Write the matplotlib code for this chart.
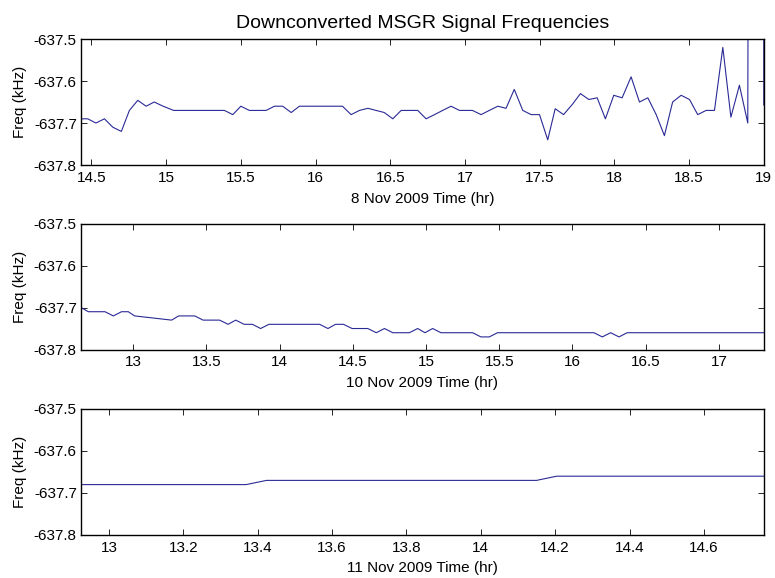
import matplotlib
matplotlib.use('Agg')
import matplotlib.pyplot as plt
import numpy as np
from matplotlib.ticker import FormatStrFormatter, FixedLocator

plt.rcParams['font.family'] = ['Liberation Sans', 'DejaVu Sans']

# 8 Nov 2009 pass
t_nov8 = [14.43, 14.475, 14.53, 14.587, 14.643, 14.70, 14.754, 14.81, 14.866, 14.92,
          14.98, 15.05, 15.39, 15.446, 15.50, 15.557, 15.669, 15.725, 15.78, 15.837,
          15.892, 16.18, 16.238, 16.294, 16.35, 16.46, 16.517, 16.573, 16.684, 16.74,
          16.796, 16.851, 16.907, 16.963, 17.05, 17.108, 17.163, 17.22, 17.275, 17.33,
          17.387, 17.443, 17.499, 17.554, 17.604, 17.66, 17.72, 17.773, 17.829, 17.885,
          17.94, 17.996, 18.052, 18.112, 18.168, 18.224, 18.28, 18.335, 18.39, 18.447,
          18.503, 18.558, 18.614, 18.67, 18.726, 18.78, 18.837, 18.893, 18.895, 19.0,
          19.0]
f_nov8 = [-637.69, -637.69, -637.70, -637.69, -637.71, -637.72, -637.67, -637.646, -637.66, -637.65,
          -637.66, -637.67, -637.67, -637.68, -637.66, -637.67, -637.67, -637.66, -637.66, -637.675,
          -637.66, -637.66, -637.68, -637.67, -637.665, -637.675, -637.69, -637.67, -637.67, -637.69,
          -637.68, -637.67, -637.66, -637.67, -637.67, -637.68, -637.67, -637.66, -637.665, -637.62,
          -637.67, -637.68, -637.68, -637.74, -637.666, -637.68, -637.655, -637.63, -637.644, -637.64,
          -637.69, -637.634, -637.64, -637.59, -637.65, -637.64, -637.68, -637.73, -637.65, -637.634,
          -637.644, -637.68, -637.67, -637.67, -637.52, -637.686, -637.61, -637.70, -637.40, -637.40,
          -637.657]

# 10 Nov 2009 pass
t_nov10 = [12.643, 12.693, 12.807, 12.864, 12.92, 12.966, 13.01, 13.262, 13.31, 13.42,
           13.477, 13.59, 13.648, 13.70, 13.757, 13.814, 13.87, 13.927, 14.273, 14.33,
           14.382, 14.436, 14.495, 14.602, 14.66, 14.716, 14.773, 14.886, 14.943, 14.993,
           15.045, 15.102, 15.318, 15.375, 15.432, 15.488, 16.147, 16.204, 16.261, 16.318,
           16.374, 17.307]
f_nov10 = [-637.70, -637.71, -637.71, -637.72, -637.71, -637.71, -637.72, -637.73, -637.72, -637.72,
           -637.73, -637.73, -637.74, -637.73, -637.74, -637.74, -637.75, -637.74, -637.74, -637.75,
           -637.74, -637.74, -637.75, -637.75, -637.76, -637.75, -637.76, -637.76, -637.75, -637.76,
           -637.75, -637.76, -637.76, -637.77, -637.77, -637.76, -637.76, -637.77, -637.76, -637.77,
           -637.76, -637.76]

# 11 Nov 2009 pass
t_nov11 = [12.925, 13.369, 13.424, 14.15, 14.204, 14.761]
f_nov11 = [-637.68, -637.68, -637.67, -637.67, -637.66, -637.66]

passes = [
    (t_nov8, f_nov8, (14.43, 19.0), np.arange(14.5, 19.01, 0.5), '8 Nov 2009 Time (hr)'),
    (t_nov10, f_nov10, (12.643, 17.307), np.arange(13.0, 17.01, 0.5), '10 Nov 2009 Time (hr)'),
    (t_nov11, f_nov11, (12.925, 14.761), np.arange(13.0, 14.61, 0.2), '11 Nov 2009 Time (hr)'),
]
yticks = [-637.8, -637.7, -637.6, -637.5]

fig = plt.figure(figsize=(7.75, 5.78), dpi=100)
bottoms = [0.7145, 0.3953, 0.0744]

for (t, f, xl, xt, lab), b in zip(passes, bottoms):
    ax = fig.add_axes([0.1045, b, 0.881, 0.218])
    ax.plot(t, f, color='#2a2a96', lw=0.8)
    ax.set_xlim(*xl)
    ax.set_ylim(-637.8, -637.5)
    ax.xaxis.set_major_locator(FixedLocator(xt))
    ax.yaxis.set_major_locator(FixedLocator(yticks))
    ax.xaxis.set_major_formatter(FormatStrFormatter('%g'))
    ax.yaxis.set_major_formatter(FormatStrFormatter('%.1f'))
    ax.tick_params(direction='in', top=True, right=True, length=4, width=0.6,
                   labelsize=11)
    ax.tick_params(axis='x', pad=4)
    ax.tick_params(axis='y', pad=3)
    for s in ax.spines.values():
        s.set_linewidth(1.0)
    ax.set_xlabel(lab, fontsize=11, labelpad=5)
    ax.set_ylabel('Freq (kHz)', fontsize=11, labelpad=5)
    if b == bottoms[0]:
        ax.set_title('Downconverted MSGR Signal Frequencies', fontsize=14, pad=8)

fig.savefig('out.png', dpi=100)
